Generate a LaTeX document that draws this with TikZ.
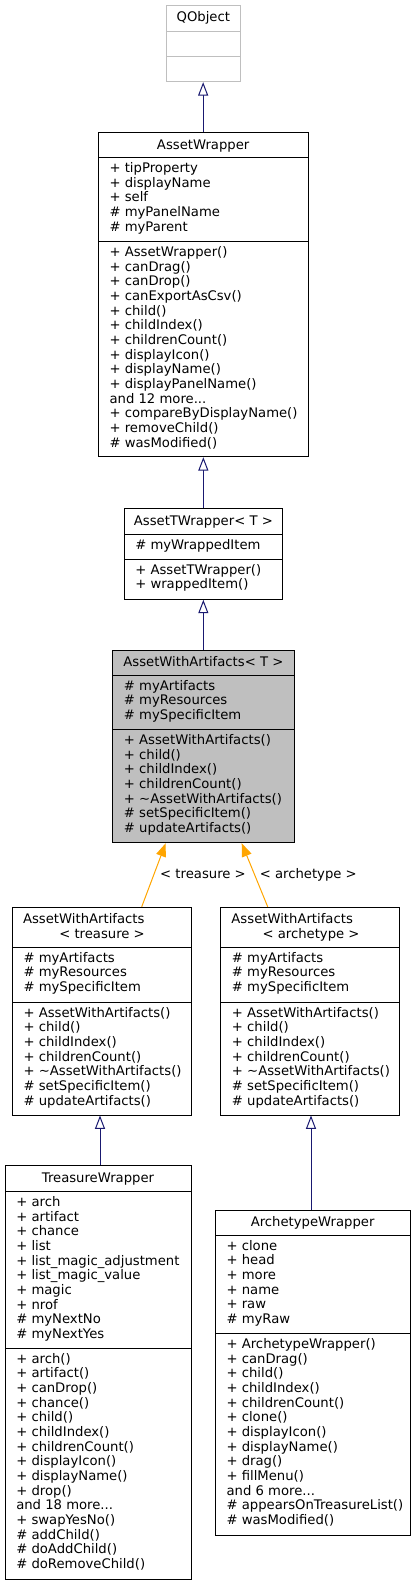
\documentclass[tikz,border=0pt]{standalone}
\usepackage{fontspec}
\setmainfont{DejaVu Sans}
\usetikzlibrary{fit,arrows.meta}
\definecolor{edgeblue}{HTML}{191970}
\definecolor{edgeorange}{HTML}{FFA500}
\definecolor{boxgray}{HTML}{BFBFBF}
\newcommand\cfont{\fontsize{9.9}{11}\selectfont}
\newcommand\mylines[1]{\begin{tabular}[t]{@{}l@{}}#1\end{tabular}}
\newcommand\awaattrs{\# myArtifacts\\\# myResources\\\# mySpecificItem}
\newcommand\awamethods{+ AssetWithArtifacts()\\+ child()\\+ childIndex()\\+ childrenCount()\\+ \textasciitilde AssetWithArtifacts()\\\# setSpecificItem()\\\# updateArtifacts()}
\tikzset{
  umlbox/.style={draw=black, line width=0.75pt, inner sep=0pt},
  sepline/.style={line width=0.75pt},
  ttl/.style={font=\cfont, inner sep=0pt, anchor=base},
  mem/.style={font=\cfont, inner sep=0pt, anchor=base west},
  inh/.style={draw=edgeblue, line width=0.75pt, -{Triangle[open, length=10pt, width=7.5pt, fill=white]}},
  inst/.style={draw=edgeorange, line width=0.75pt, -{Triangle[length=10pt, width=7.5pt]}},
  elabel/.style={font=\cfont, inner sep=0pt, anchor=base},
}
\begin{document}
\begin{tikzpicture}[x=0.75pt,y=-0.75pt]
\useasboundingbox (0,0) rectangle (415,1585);
% QObject
\node[umlbox, draw=boxgray, fit={(166,5) (240.7,81.7)}] (qo) {};
\draw[sepline, boxgray] (166,31.7) -- (240.7,31.7);
\draw[sepline, boxgray] (166,56.7) -- (240.7,56.7);
\node[ttl] (qot) at (203.35,21.5) {QObject};
% AssetWrapper
\node[umlbox, fit={(98.3,132.7) (308,456.7)}] (aw) {};
\draw[sepline] (98.3,157.7) -- (308,157.7);
\draw[sepline] (98.3,241.7) -- (308,241.7);
\node[ttl] (awt0) at (203.15,149) {AssetWrapper};
\node[mem] (awa0) at (109.3,172.5) {\mylines{+ tipProperty\\+ displayName\\+ self\\\# myPanelName\\\# myParent}};
\node[mem] (awm0) at (109.3,256.5) {\mylines{+ AssetWrapper()\\+ canDrag()\\+ canDrop()\\+ canExportAsCsv()\\+ child()\\+ childIndex()\\+ childrenCount()\\+ displayIcon()\\+ displayName()\\+ displayPanelName()\\and 12 more...\\+ compareByDisplayName()\\+ removeChild()\\\# wasModified()}};
% AssetTWrapper
\node[umlbox, fit={(124,508.7) (282.7,599.3)}] (atw) {};
\draw[sepline] (124,534) -- (282.7,534);
\draw[sepline] (124,559.3) -- (282.7,559.3);
\node[ttl] (atwt) at (203.35,525) {AssetTWrapper< T >};
\node[mem] (atwa) at (135,549) {\mylines{\# myWrappedItem}};
\node[mem] (atwm) at (135,574) {\mylines{+ AssetTWrapper()\\+ wrappedItem()}};
% AssetWithArtifacts<T>
\node[umlbox, fill=boxgray, fit={(112.7,650) (294,842.7)}] (awa) {};
\draw[sepline] (112.7,675) -- (294,675);
\draw[sepline] (112.7,729.3) -- (294,729.3);
\node[ttl] (awat) at (203.35,666.5) {AssetWithArtifacts< T >};
\node[mem] (awaa) at (123.7,690) {\mylines{\awaattrs}};
\node[mem] (awam) at (123.7,744.5) {\mylines{\awamethods}};
% AssetWithArtifacts<treasure>
\node[umlbox, fit={(12.3,907.3) (191,1115)}] (awt) {};
\draw[sepline] (12.3,947.3) -- (191,947.3);
\draw[sepline] (12.3,1002.3) -- (191,1002.3);
\node[mem] (awtt1) at (22.8,923) {AssetWithArtifacts};
\node[mem] (awtt2) at (59,938) {< treasure >};
\node[mem] (awta) at (23.3,962) {\mylines{\awaattrs}};
\node[mem] (awtm) at (23.3,1017) {\mylines{\awamethods}};
% AssetWithArtifacts<archetype>
\node[umlbox, fit={(220.7,907.3) (399.3,1115)}] (awr) {};
\draw[sepline] (220.7,947.3) -- (399.3,947.3);
\draw[sepline] (220.7,1002.3) -- (399.3,1002.3);
\node[mem] (awrt1) at (231.2,923) {AssetWithArtifacts};
\node[mem] (awrt2) at (262.3,938) {< archetype >};
\node[mem] (awra) at (231.7,962) {\mylines{\awaattrs}};
\node[mem] (awrm) at (231.7,1017) {\mylines{\awamethods}};
% TreasureWrapper
\node[umlbox, fit={(5,1165.7) (191,1579.3)}] (tw) {};
\draw[sepline] (5,1191.5) -- (191,1191.5);
\draw[sepline] (5,1348.3) -- (191,1348.3);
\node[ttl] (twt) at (98,1182) {TreasureWrapper};
\node[mem] (twa) at (16,1206.5) {\mylines{+ arch\\+ artifact\\+ chance\\+ list\\+ list\_magic\_adjustment\\+ list\_magic\_value\\+ magic\\+ nrof\\\# myNextNo\\\# myNextYes}};
\node[mem] (twm) at (16,1363) {\mylines{+ arch()\\+ artifact()\\+ canDrop()\\+ chance()\\+ child()\\+ childIndex()\\+ childrenCount()\\+ displayIcon()\\+ displayName()\\+ drop()\\and 18 more...\\+ swapYesNo()\\\# addChild()\\\# doAddChild()\\\# doRemoveChild()}};
% ArchetypeWrapper
\node[umlbox, fit={(215.3,1210) (410,1535)}] (arw) {};
\draw[sepline] (215.3,1235) -- (410,1235);
\draw[sepline] (215.3,1333.3) -- (410,1333.3);
\node[ttl] (arwt) at (312.65,1226.5) {ArchetypeWrapper};
\node[mem] (arwa) at (226.3,1250) {\mylines{+ clone\\+ head\\+ more\\+ name\\+ raw\\\# myRaw}};
\node[mem] (arwm) at (226.3,1348.5) {\mylines{+ ArchetypeWrapper()\\+ canDrag()\\+ child()\\+ childIndex()\\+ childrenCount()\\+ clone()\\+ displayIcon()\\+ displayName()\\+ drag()\\+ fillMenu()\\and 6 more...\\\# appearsOnTreasureList()\\\# wasModified()}};
% connectors
\draw[inh] (aw.north) -- (aw.north |- qo.south);
\draw[inh] (atw.north) -- (atw.north |- aw.south);
\draw[inh] (awa.north) -- (awa.north |- atw.south);
\draw[inst] ([xshift=30.04pt]awt.north) -- ([xshift=-28.24pt]awa.south);
\draw[inst] ([xshift=-31.7pt]awr.north) -- ([xshift=28.76pt]awa.south);
\draw[inh] ([xshift=1.5pt]tw.north) -- ([xshift=1.5pt]tw.north |- awt.south);
\draw[inh] ([xshift=-1.24pt]arw.north) -- ([xshift=-1.24pt]arw.north |- awr.south);
\node[elabel] (lt) at (203,878.5) {< treasure >};
\node[elabel] (la) at (308.3,878.5) {< archetype >};
\end{tikzpicture}
\end{document}
